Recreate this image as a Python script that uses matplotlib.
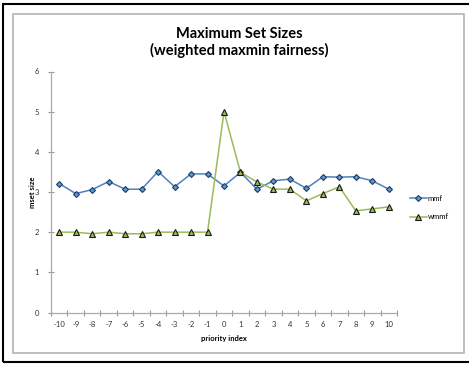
import matplotlib
matplotlib.use("Agg")
import matplotlib.pyplot as plt
from matplotlib.patches import Rectangle

priority = list(range(-10, 11))
mmf = [3.21, 2.96, 3.06, 3.26, 3.07, 3.07, 3.51, 3.13, 3.45, 3.45, 3.15,
       3.49, 3.07, 3.28, 3.32, 3.09, 3.38, 3.37, 3.38, 3.28, 3.07]
wmmf = [2.00, 2.00, 1.96, 2.00, 1.96, 1.96, 2.00, 2.00, 2.00, 2.00, 5.00,
        3.49, 3.25, 3.07, 3.07, 2.78, 2.96, 3.13, 2.53, 2.58, 2.63]
yticks = [0, 1, 2, 3, 4, 5, 6]

plt.rcParams['font.family'] = ['Lato', 'DejaVu Sans']

W, H = 469, 367
fig = plt.figure(figsize=(W / 100, H / 100), dpi=100)

def fx(px):
    return px / W

def fy(py):
    return 1 - py / H

# outer black frame and inner grey frame
fig.patches.append(Rectangle((fx(3), fy(362)), fx(480) - fx(3), fy(4) - fy(362),
                             transform=fig.transFigure, fill=False,
                             edgecolor='black', linewidth=1.5, zorder=0))
fig.patches.append(Rectangle((fx(12.5), fy(353)), fx(464) - fx(12.5), fy(13.5) - fy(353),
                             transform=fig.transFigure, fill=False,
                             edgecolor='#b3b3b3', linewidth=1.2, zorder=0))

left, right = 51, 397
top, bottom = 71.5, 312.5
ax = fig.add_axes([fx(left), fy(bottom), fx(right) - fx(left), fy(top) - fy(bottom)])

x = list(range(len(priority)))
ax.plot(x, mmf, color='#4F81BD', linewidth=1.1, marker='D', markersize=3.0,
        markerfacecolor='#5B9BD5', markeredgecolor='#1F3A5F', markeredgewidth=0.8,
        label='mmf', zorder=3)
ax.plot(x, wmmf, color='#9BBB59', linewidth=1.1, marker='^', markersize=4.2,
        markerfacecolor='#9BBB59', markeredgecolor='#1a1a1a', markeredgewidth=0.8,
        label='wmmf', zorder=3)

ax.set_xlim(-0.5, len(priority) - 0.5)
ax.set_ylim(0, 6)
ax.set_yticks(yticks)
ax.set_yticklabels([str(v) for v in yticks], fontsize=5.5, color='#333333')

ax.set_xticks([i - 0.5 for i in range(len(priority) + 1)])
ax.set_xticklabels([])
ax.set_xticks(x, minor=True)
ax.set_xticklabels([str(p) for p in priority], minor=True, fontsize=5.5, color='#333333')
ax.tick_params(axis='x', which='minor', length=0, pad=6)
ax.tick_params(axis='x', which='major', direction='inout', length=5, color='#999999', width=0.8)
ax.tick_params(axis='y', direction='inout', length=5, color='#999999', width=0.8, pad=6)

for s in ['top', 'right']:
    ax.spines[s].set_visible(False)
for s in ['left', 'bottom']:
    ax.spines[s].set_color('#aaaaaa')
    ax.spines[s].set_linewidth(0.9)

ax.set_xlabel('priority index', fontsize=5.5, fontweight='bold', labelpad=5)
ax.set_ylabel('mset size', fontsize=5.5, fontweight='bold', labelpad=-1)

fig.text(fx(239.5), fy(34.5), 'Maximum Set Sizes', ha='center', va='center',
         fontsize=10.5, fontweight='bold')
fig.text(fx(239.5), fy(50.5), '(weighted maxmin fairness)', ha='center', va='center',
         fontsize=10.5, fontweight='bold')

leg = fig.legend(loc='center left', bbox_to_anchor=(fx(410), fy(207.5)),
                 bbox_transform=fig.transFigure,
                 frameon=False, fontsize=5.5, handlelength=2.2, handletextpad=0.1,
                 labelspacing=1.5, borderaxespad=0, borderpad=0)

fig.savefig('out.png', dpi=100)
